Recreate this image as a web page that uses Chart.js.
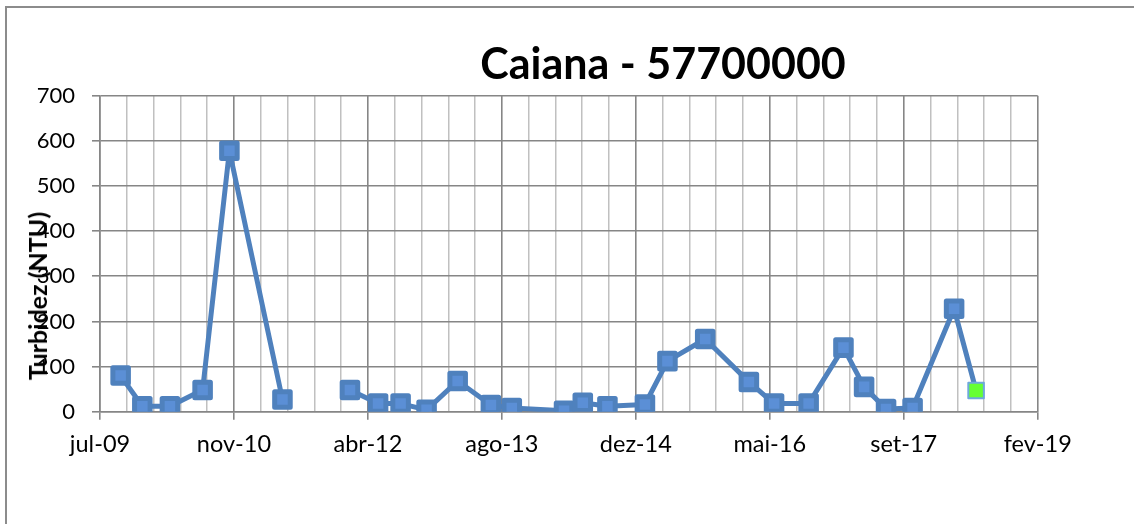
<!DOCTYPE html>
<html>
<head>
<meta charset="utf-8">
<script src="https://cdn.jsdelivr.net/npm/chart.js@4"></script>
<style>
  html, body { margin: 0; padding: 0; background: #fff; overflow: hidden; }
  #wrap { position: relative; width: 1134px; height: 524px; overflow: hidden; }
  #frame { position: absolute; left: 5px; top: 6px; width: 1200px; height: 600px;
    border-left: 2px solid #8c8c8c; border-top: 2px solid #8c8c8c; }
  #title { position: absolute; left: 663px; top: 41px; transform: translateX(-50%);
    font: bold 43px Lato, sans-serif; line-height: 43px; white-space: nowrap; color: #000; }
  #ytitle { position: absolute; left: 37px; top: 296px; transform: translate(-50%, -50%) rotate(-90deg);
    font: bold 25px Lato, sans-serif; white-space: nowrap; color: #000; }
  canvas { position: absolute; left: 0; top: 0; }
</style>
</head>
<body>
<div id="wrap">
  <div id="frame"></div>
  <canvas id="turbChart" width="1134" height="524"></canvas>
  <div id="title">Caiana - 57700000</div>
  <div id="ytitle">Turbidez (NTU)</div>
</div>
<script>
// datas das coletas e turbidez (NTU)
const dates = [
  '2009-09-21', '2009-12-11', '2010-03-24', '2010-07-24', '2010-11-01', '2011-05-18',
  '2011-09-01', // sem medição (quebra da linha)
  '2012-01-25', '2012-05-09', '2012-08-01', '2012-11-06', '2013-03-02', '2013-07-04',
  '2013-09-20', '2014-04-03', '2014-06-12', '2014-09-12', '2015-01-30', '2015-04-24',
  '2015-09-12', '2016-02-22', '2016-05-26', '2016-10-02', '2017-02-09', '2017-04-27',
  '2017-07-18', '2017-10-25', '2018-03-29', '2018-06-19'
];
const turbidity = [
  80, 12, 12, 48, 578, 27,
  null,
  48, 18, 18, 4, 68, 15,
  8, 2, 20, 12, 16, 112,
  161, 66, 18, 18, 142, 55,
  6, 8, 228, 47
];
const yTicks = [0, 100, 200, 300, 400, 500, 600, 700];
const months = ['jan', 'fev', 'mar', 'abr', 'mai', 'jun', 'jul', 'ago', 'set', 'out', 'nov', 'dez'];

// data -> número serial do Excel (dias desde 30/12/1899)
const EXCEL_EPOCH = Date.UTC(1899, 11, 30);
function toSerial(iso) {
  const p = iso.split('-').map(Number);
  return Math.round((Date.UTC(p[0], p[1] - 1, p[2]) - EXCEL_EPOCH) / 86400000);
}
function serialLabel(v) {
  const d = new Date(EXCEL_EPOCH + v * 86400000);
  return months[d.getUTCMonth()] + '-' + String(d.getUTCFullYear()).slice(2);
}

const last = turbidity.length - 1;
const MAJOR = '#868686';
const MINOR = '#c0c0c0';

const roundJoin = {
  id: 'roundJoin',
  beforeDatasetsDraw(chart) { chart.ctx.lineJoin = 'round'; }
};

const ctx = document.getElementById('turbChart').getContext('2d');
const turbChart = new Chart(ctx, {
  type: 'line',
  data: {
    datasets: [{
      label: 'Turbidez',
      data: dates.map((d, i) => ({ x: toSerial(d), y: turbidity[i] })),
      borderColor: '#4f81bd',
      borderWidth: 5,
      borderJoinStyle: 'round',
      tension: 0,
      spanGaps: false,
      pointStyle: 'rect',
      pointRadius: 11,
      pointBackgroundColor: turbidity.map((v, i) => i === last ? '#66ff33' : '#5b8fd6'),
      pointBorderColor: turbidity.map((v, i) => i === last ? '#6fa8dc' : '#4f81bd'),
      pointBorderWidth: turbidity.map((v, i) => i === last ? 2 : 5)
    }]
  },
  options: {
    responsive: false,
    animation: false,
    layout: { padding: { left: 0, right: 96.3, top: 95.7, bottom: 42.3 } },
    plugins: {
      legend: { display: false },
      tooltip: { enabled: false }
    },
    scales: {
      x: {
        type: 'linear',
        min: 40000,
        max: 43500,
        afterFit: s => { s.height = 70; },
        ticks: {
          stepSize: 100,
          autoSkip: false,
          maxRotation: 0,
          padding: 11,
          color: '#000',
          font: { family: 'Lato', size: 23.5 },
          callback: v => v % 500 === 0 ? serialLabel(v) : ''
        },
        grid: {
          color: c => c.tick && c.tick.value % 500 === 0 ? MAJOR : MINOR,
          lineWidth: c => c.tick && c.tick.value % 500 === 0 ? 1.6 : 1.5,
          tickColor: c => c.tick && c.tick.value % 500 === 0 ? MAJOR : 'rgba(0,0,0,0)',
          tickLength: 8
        },
        border: { color: MAJOR, width: 1.6 }
      },
      y: {
        min: yTicks[0],
        max: yTicks[yTicks.length - 1],
        afterFit: s => { s.width = 100; },
        afterBuildTicks: s => { s.ticks = yTicks.map(v => ({ value: v })); },
        ticks: {
          padding: 17,
          color: '#000',
          font: { family: 'Lato', size: 22 }
        },
        grid: { color: MAJOR, lineWidth: 1.6, tickLength: 8 },
        border: { color: MAJOR, width: 1.6 }
      }
    }
  },
  plugins: [roundJoin]
});
</script>
</body>
</html>
